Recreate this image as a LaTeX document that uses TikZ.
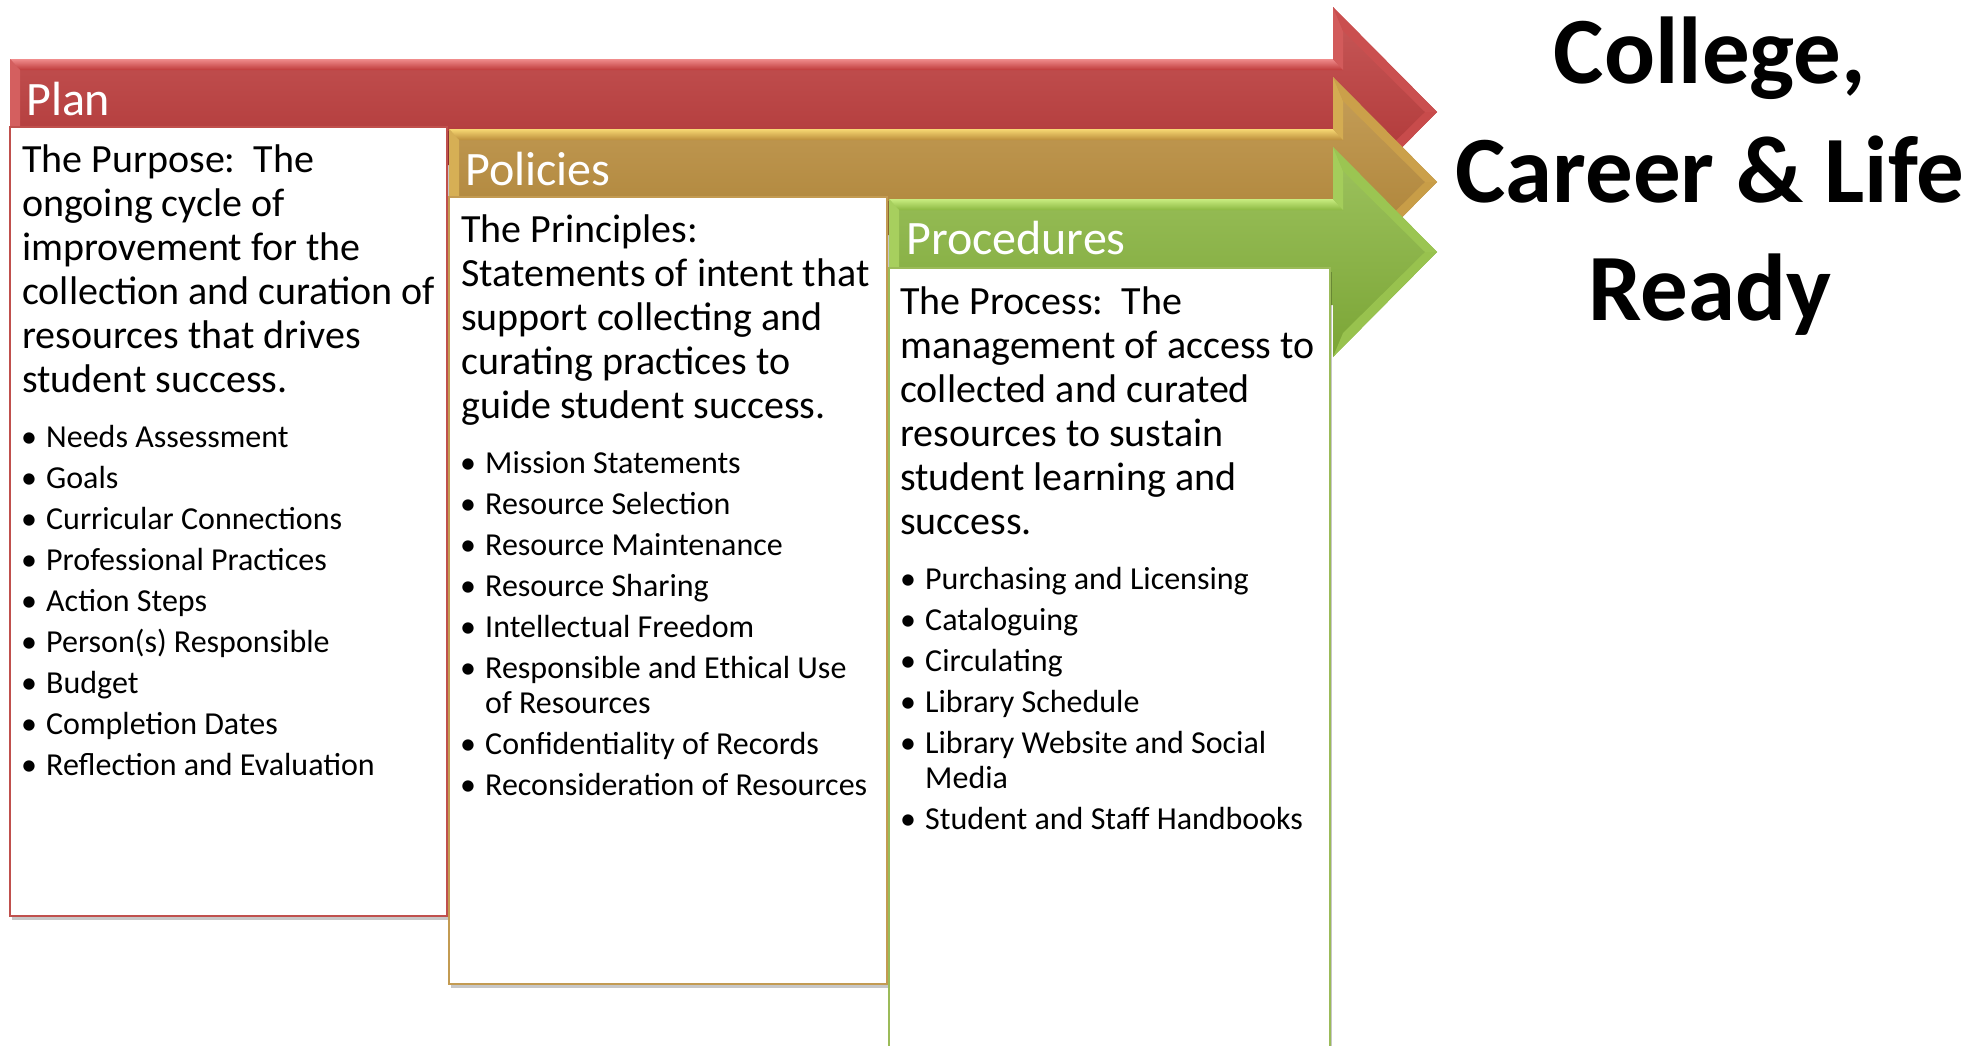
\documentclass[tikz,border=0pt]{standalone}
\usepackage{fontspec}
\setmainfont{Carlito}
\usetikzlibrary{shadows}
\definecolor{redA}{HTML}{BE3B3B}
\definecolor{redL}{HTML}{F08C8C}
\definecolor{redD}{HTML}{A82E2E}
\definecolor{redB}{HTML}{C0504D}
\definecolor{goldA}{HTML}{BC8E3C}
\definecolor{goldL}{HTML}{F7D873}
\definecolor{goldD}{HTML}{A67C30}
\definecolor{goldB}{HTML}{C39B52}
\definecolor{greenA}{HTML}{8CB842}
\definecolor{greenL}{HTML}{C8EC80}
\definecolor{greenD}{HTML}{7BA536}
\definecolor{greenB}{HTML}{9BBB59}
% #1 left x, #2 shaft top y, #3 base, #4 light, #5 dark
\newcommand\bandarrow[5]{%
  \shade[top color=#3!85!white, middle color=#3, bottom color=#5]
    (#1,#2) -- (1333,#2) -- (1333,#2-52) -- (1437,#2+53) -- (1333,#2+158)
    -- (1333,#2+106) -- (#1,#2+106) -- cycle;
  \shade[top color=#4, bottom color=#3] (#1,#2) -- (1333,#2) -- (1343,#2+11) -- (#1+10,#2+11) -- cycle;
  \fill[#4!45!#3] (#1,#2) -- (#1+10,#2+11) -- (#1+10,#2+96) -- (#1,#2+106) -- cycle;
  \fill[#4!40!#3] (1333,#2) -- (1333,#2-52) -- (1343,#2-28) -- (1343,#2+11) -- cycle;
  \fill[#4!25!#3] (1333,#2-52) -- (1437,#2+53) -- (1425,#2+53) -- (1343,#2-28) -- cycle;
  \fill[#4!20!#3] (1437,#2+53) -- (1333,#2+158) -- (1343,#2+134) -- (1425,#2+53) -- cycle;
}
\newcommand\bodytext[1]{\begin{minipage}[t]{440pt}\fontsize{40}{44}\selectfont\raggedright #1\end{minipage}}
\newcommand\blist[1]{\begin{minipage}[t]{450pt}\fontsize{32}{35}\selectfont\setlength\parskip{6pt}\raggedright #1\end{minipage}}
\newcommand\bitem[1]{\par\makebox[25pt][l]{\textbullet}#1}
\tikzset{
  wbox/.style={fill=white, line width=2.5pt,
    drop shadow={shadow xshift=2pt, shadow yshift=-4pt, fill=black, opacity=0.22}},
  headtxt/.style={anchor=base west, inner sep=0pt, text=white, font=\fontsize{48}{58}\selectfont},
  bodytxt/.style={anchor=base west, inner sep=0pt},
  titletxt/.style={anchor=base, inner sep=0pt, font=\fontsize{95}{118}\selectfont\bfseries},
}
\begin{document}
\begin{tikzpicture}[x=1pt, y=-1pt]
\useasboundingbox (0,0) rectangle (1986,1045);
\clip (0,0) rectangle (1986,1045);
\fill[white] (0,0) rectangle (1986,1045);

% Plan
\bandarrow{10}{59}{redA}{redL}{redD}
\draw[wbox, draw=redB] (10,127) rectangle (447,916);
\node[headtxt] (plan) at (26,115) {Plan};
\node[bodytxt] (planbody) at (22,172) {\bodytext{The Purpose:\ \ The\\ongoing cycle of\\improvement for the\\collection and curation of\\resources that drives\\student success.}};
\node[bodytxt] (planlist) at (21,447) {\blist{%
\bitem{Needs Assessment}
\bitem{Goals}
\bitem{Curricular Connections}
\bitem{Professional Practices}
\bitem{Action Steps}
\bitem{Person(s) Responsible}
\bitem{Budget}
\bitem{Completion Dates}
\bitem{Reflection and Evaluation}}};

% Policies
\bandarrow{449}{129}{goldA}{goldL}{goldD}
\draw[wbox, draw=goldB] (449,197) rectangle (887,984);
\node[headtxt] (policies) at (465,185) {Policies};
\node[bodytxt] (polbody) at (461,242) {\bodytext{The Principles:\\Statements of intent that\\support collecting and\\curating practices to\\guide student success.}};
\node[bodytxt] (pollist) at (460,473) {\blist{%
\bitem{Mission Statements}
\bitem{Resource Selection}
\bitem{Resource Maintenance}
\bitem{Resource Sharing}
\bitem{Intellectual Freedom}
\bitem{Responsible and Ethical Use\\\hspace*{25pt}of Resources}
\bitem{Confidentiality of Records}
\bitem{Reconsideration of Resources}}};

% Procedures
\bandarrow{889}{199}{greenA}{greenL}{greenD}
\draw[wbox, draw=greenB] (889,268) rectangle (1330,1070);
\node[headtxt] (procedures) at (906,254) {Procedures};
\node[bodytxt] (procbody) at (900,314) {\bodytext{The Process:\ \ The\\management of access to\\collected and curated\\resources to sustain\\student learning and\\success.}};
\node[bodytxt] (proclist) at (900,589) {\blist{%
\bitem{Purchasing and Licensing}
\bitem{Cataloguing}
\bitem{Circulating}
\bitem{Library Schedule}
\bitem{Library Website and Social\\\hspace*{25pt}Media}
\bitem{Student and Staff Handbooks}}};

% Title
\node[titletxt] (t1) at (1710,83) {College,};
\node[titletxt] (t2) at (1710,202) {Career \& Life};
\node[titletxt] (t3) at (1710,320) {Ready};
\end{tikzpicture}
\end{document}
